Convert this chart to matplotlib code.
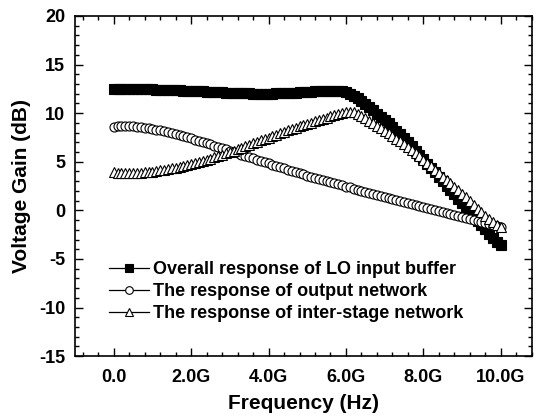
import numpy as np
import matplotlib
matplotlib.use('Agg')
import matplotlib.pyplot as plt
from matplotlib.ticker import MultipleLocator

plt.rcParams['font.family'] = ['Liberation Sans', 'DejaVu Sans']
plt.rcParams['font.weight'] = 'bold'
plt.rcParams['axes.unicode_minus'] = False

# frequency grid in GHz (0.0 .. 10.0, step 0.1)
freq_ghz = np.round(np.arange(101) * 0.1, 1)

# overall response of LO input buffer (dB)
overall = [
    12.50, 12.50, 12.50, 12.49, 12.49, 12.48, 12.47, 12.47, 12.46, 12.45, 12.44,
    12.43, 12.41, 12.40, 12.38, 12.37, 12.35, 12.34, 12.32, 12.31, 12.29,
    12.27, 12.25, 12.23, 12.21, 12.19, 12.17, 12.15, 12.13, 12.11, 12.09,
    12.07, 12.06, 12.04, 12.03, 12.02, 12.01, 12.00, 12.00, 12.00, 12.00,
    12.01, 12.02, 12.03, 12.05, 12.07, 12.09, 12.11, 12.14, 12.16, 12.19,
    12.22, 12.24, 12.26, 12.28, 12.29, 12.30, 12.30, 12.28, 12.23, 12.14,
    11.98, 11.78, 11.52, 11.22, 10.92, 10.60, 10.28, 9.95, 9.62, 9.28,
    8.94, 8.58, 8.21, 7.82, 7.42, 7.01, 6.59, 6.15, 5.70, 5.25,
    4.80, 4.35, 3.90, 3.45, 3.00, 2.55, 2.10, 1.65, 1.20, 0.75,
    0.30, -0.15, -0.60, -1.05, -1.50, -1.95, -2.40, -2.85, -3.25, -3.60,
]

# response of output network (dB)
output_net = [
    8.60, 8.66, 8.69, 8.70, 8.69, 8.66, 8.62, 8.57, 8.51, 8.45, 8.38,
    8.30, 8.22, 8.13, 8.04, 7.94, 7.84, 7.73, 7.62, 7.51, 7.40,
    7.28, 7.16, 7.04, 6.92, 6.79, 6.66, 6.53, 6.40, 6.26, 6.12,
    5.99, 5.86, 5.73, 5.60, 5.47, 5.34, 5.21, 5.08, 4.95, 4.82,
    4.69, 4.56, 4.43, 4.31, 4.18, 4.06, 3.94, 3.82, 3.70, 3.58,
    3.44, 3.33, 3.22, 3.11, 3.00, 2.89, 2.78, 2.67, 2.56, 2.45,
    2.35, 2.24, 2.14, 2.03, 1.93, 1.82, 1.72, 1.61, 1.51, 1.40,
    1.28, 1.17, 1.06, 0.95, 0.84, 0.73, 0.62, 0.52, 0.42, 0.32,
    0.22, 0.12, 0.02, -0.08, -0.18, -0.28, -0.38, -0.48, -0.58, -0.68,
    -0.78, -0.88, -0.98, -1.08, -1.18, -1.28, -1.38, -1.48, -1.58, -1.68,
]

# response of inter-stage network (dB)
inter_stage = [
    3.90, 3.88, 3.86, 3.85, 3.84, 3.84, 3.85, 3.87, 3.90, 3.94, 3.99,
    4.04, 4.10, 4.17, 4.24, 4.32, 4.40, 4.49, 4.58, 4.68, 4.78,
    4.88, 4.99, 5.10, 5.21, 5.33, 5.46, 5.59, 5.72, 5.86, 6.00,
    6.14, 6.29, 6.44, 6.59, 6.74, 6.89, 7.04, 7.19, 7.34, 7.49,
    7.64, 7.79, 7.94, 8.09, 8.23, 8.37, 8.51, 8.64, 8.77, 8.90,
    9.03, 9.16, 9.29, 9.42, 9.55, 9.68, 9.80, 9.92, 10.03, 10.12,
    10.15, 10.10, 9.95, 9.74, 9.48, 9.22, 8.96, 8.70, 8.45, 8.19,
    7.92, 7.65, 7.38, 7.10, 6.81, 6.51, 6.20, 5.88, 5.55, 5.21,
    4.87, 4.52, 4.17, 3.82, 3.47, 3.12, 2.77, 2.42, 2.07, 1.71,
    1.34, 0.96, 0.57, 0.18, -0.20, -0.56, -0.90, -1.20, -1.48, -1.75,
]

labels = ['Overall response of LO input buffer',
          'The response of output network',
          'The response of inter-stage network']
xtick_pos = [0, 2, 4, 6, 8, 10]
xtick_labels = ['0.0', '2.0G', '4.0G', '6.0G', '8.0G', '10.0G']

fig = plt.figure(figsize=(5.36, 4.19), dpi=100)
ax = fig.add_axes([0.140, 0.150, 0.852, 0.812])

ax.plot(freq_ghz, overall, color='black', lw=1.0, marker='s', ms=6.5,
        mfc='black', mec='black', mew=0.8, label=labels[0])
ax.plot(freq_ghz, output_net, color='black', lw=1.0, marker='o', ms=6.5,
        mfc='white', mec='black', mew=0.8, label=labels[1])
ax.plot(freq_ghz, inter_stage, color='black', lw=1.0, marker='^', ms=7,
        mfc='white', mec='black', mew=0.8, label=labels[2])

ax.set_xlim(-1, 10.8)
ax.set_ylim(-15, 20)
ax.set_xticks(xtick_pos)
ax.set_xticklabels(xtick_labels)
ax.xaxis.set_minor_locator(MultipleLocator(0.4))
ax.yaxis.set_major_locator(MultipleLocator(5))
ax.yaxis.set_minor_locator(MultipleLocator(1))
ax.tick_params(which='both', direction='in', top=True, right=True,
               labelsize=13, width=1.0)
ax.tick_params(axis='x', which='major', length=6, pad=9)
ax.tick_params(axis='y', which='major', length=6, pad=7)
ax.tick_params(which='minor', length=3)
for lbl in ax.get_xticklabels() + ax.get_yticklabels():
    lbl.set_fontweight('bold')
for sp in ax.spines.values():
    sp.set_linewidth(1.2)

ax.set_xlabel('Frequency (Hz)', fontsize=15, fontweight='bold', labelpad=6)
ax.set_ylabel('Voltage Gain (dB)', fontsize=15, fontweight='bold', labelpad=6)

leg = ax.legend(loc='lower left', bbox_to_anchor=(0.075, 0.10), frameon=False,
                prop={'size': 13, 'weight': 'bold'}, handlelength=2.2,
                handletextpad=0.2, labelspacing=0.28, borderaxespad=0,
                borderpad=0)
for h in leg.legend_handles:
    h.set_markersize(5.5)
    h.set_linewidth(0.9)

fig.savefig('out.png', dpi=100)
